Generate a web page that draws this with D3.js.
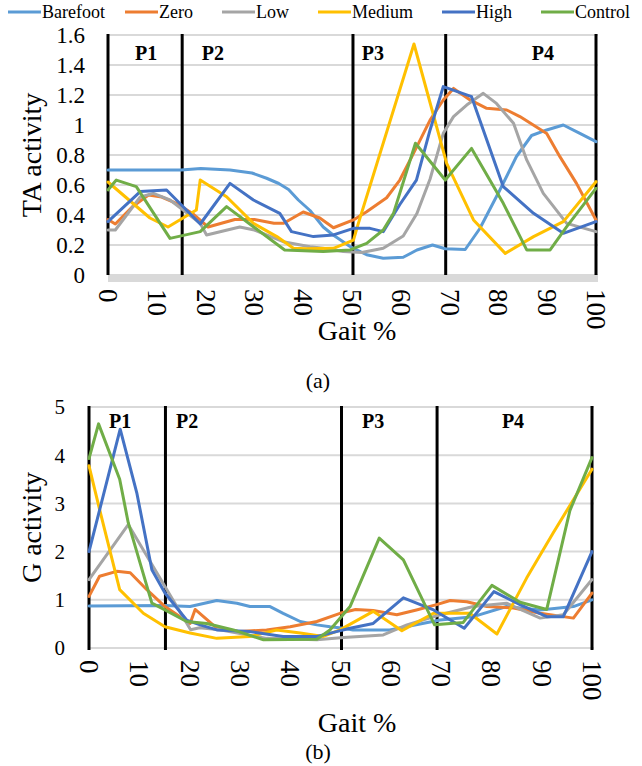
<!DOCTYPE html>
<html>
<head>
<meta charset="utf-8">
<script src="https://cdn.jsdelivr.net/npm/d3@7/dist/d3.min.js"></script>
<style>
  html, body { margin: 0; padding: 0; background: #fff; }
  svg { display: block; }
</style>
</head>
<body>
<svg id="chart" width="642" height="766"></svg>
<script>
// ---- Data -------------------------------------------------------------
const seriesNames = ["Barefoot", "Zero", "Low", "Medium", "High", "Control"];
const seriesColors = ["#5B9BD5", "#ED7D31", "#A5A5A5", "#FFC000", "#4472C4", "#70AD47"];

const gaitTicks = [0, 10, 20, 30, 40, 50, 60, 70, 80, 90, 100];
const taTicks = [0, 0.2, 0.4, 0.6, 0.8, 1, 1.2, 1.4, 1.6];
const gTicks = [0, 1, 2, 3, 4, 5];

// phase boundaries (gait %) and phase names
const phaseBounds = [0, 15.2, 50.2, 69.2, 100];
const phaseNames = ["P1", "P2", "P3", "P4"];
const taPhaseLabelAt = [7.8, 21.5, 54.3, 89.1];
const gPhaseLabelAt = [6.2, 19.5, 56.5, 84.3];

// Tibialis anterior activity: [gait %, activity]
const taBarefoot = [[0,0.70],[15,0.70],[19,0.71],[25,0.70],[29.5,0.68],[32.5,0.645],[35,0.61],[37,0.57],[39,0.50],[41.4,0.43],[44.1,0.32],[46,0.27],[49.6,0.19],[53,0.135],[56.4,0.112],[60.5,0.118],[63.3,0.167],[66.5,0.2],[69.1,0.175],[73.2,0.17],[76.2,0.31],[80.3,0.567],[83.7,0.79],[86.8,0.93],[89.9,0.967],[93.3,1.0],[96.7,0.944],[100,0.889]];
const taZero = [[0,0.37],[1.5,0.34],[5,0.455],[8.3,0.533],[11,0.52],[14,0.478],[17.3,0.41],[20.5,0.32],[26,0.37],[30,0.37],[34,0.345],[36,0.345],[40,0.42],[43.4,0.38],[46.2,0.315],[50.3,0.367],[53,0.422],[57.1,0.515],[59.8,0.633],[62.6,0.811],[66,1.033],[68.7,1.167],[70.8,1.244],[74.2,1.167],[77.6,1.111],[81.7,1.1],[84.4,1.056],[89.9,0.944],[92.6,0.789],[96,0.611],[100,0.367]];
const taLow = [[0,0.3],[1.5,0.3],[6.6,0.52],[9.3,0.544],[12.7,0.5],[15.4,0.433],[18.9,0.344],[20.2,0.267],[27,0.32],[30,0.3],[35.9,0.222],[41.4,0.189],[44.1,0.178],[48.2,0.156],[52,0.15],[56.4,0.178],[60.5,0.26],[63.3,0.41],[66,0.64],[68.7,0.944],[70.8,1.056],[73.5,1.133],[76.9,1.211],[79.6,1.144],[83.1,1.011],[85.8,0.767],[89.2,0.544],[94,0.344],[100,0.289]];
const taMedium = [[0,0.62],[8.6,0.38],[12.3,0.32],[18.1,0.433],[18.9,0.633],[24.3,0.522],[29.8,0.344],[34.6,0.256],[38,0.178],[40.7,0.175],[46.2,0.178],[50.3,0.233],[51.3,0.344],[62.7,1.54],[69.4,0.744],[74.9,0.367],[81.4,0.144],[87.2,0.256],[93.3,0.356],[100,0.622]];
const taHigh = [[0,0.356],[6.6,0.556],[12,0.567],[18.9,0.34],[25,0.611],[29.8,0.5],[35.2,0.411],[37.6,0.289],[42.1,0.256],[46.2,0.267],[50.3,0.311],[53.7,0.311],[56.4,0.289],[59.8,0.47],[63.2,0.633],[66,0.967],[68.7,1.256],[74.5,1.189],[81,0.589],[87.2,0.411],[93.3,0.278],[100,0.356]];
const taControl = [[0,0.567],[1.7,0.633],[5.8,0.589],[12.7,0.244],[18.9,0.289],[24.3,0.456],[29.8,0.322],[36.2,0.167],[44.1,0.156],[49.6,0.167],[53,0.211],[56.4,0.3],[58.5,0.411],[63,0.878],[69.1,0.633],[74.5,0.844],[81,0.478],[85.8,0.167],[90.6,0.167],[94,0.322],[100,0.578]];

// Gastrocnemius activity: [gait %, activity]
const gBarefoot = [[0,0.87],[15.1,0.88],[20.1,0.86],[25.4,0.985],[29.4,0.93],[32,0.86],[36,0.86],[38.6,0.72],[42,0.55],[45.3,0.48],[47.9,0.44],[50.6,0.41],[52.5,0.375],[59.8,0.375],[69.8,0.58],[76.4,0.65],[83,0.86],[89.7,0.79],[96.3,0.86],[100,1.0]];
const gZero = [[0,1.07],[2.1,1.49],[5.5,1.59],[8.2,1.56],[11.5,1.21],[15.1,0.86],[20.1,0.51],[21.1,0.8],[25.4,0.41],[30,0.34],[35.3,0.375],[40,0.44],[45.3,0.55],[49.9,0.72],[53,0.8],[56.5,0.78],[61.2,0.69],[65.1,0.79],[69.1,0.9],[71.8,0.985],[75.1,0.96],[79.1,0.86],[84.4,0.83],[89.7,0.72],[96.3,0.62],[100,1.14]];
const gLow = [[0,1.42],[7.8,2.56],[20.2,0.38],[22,0.42],[26,0.38],[35.3,0.2],[45.3,0.17],[50.6,0.22],[58.5,0.27],[63.2,0.48],[69.8,0.69],[76.4,0.86],[83,0.93],[89.7,0.62],[94.3,0.69],[100,1.42]];
const gMedium = [[0,3.78],[2.1,2.875],[6.1,1.21],[10.8,0.72],[15.1,0.44],[20.1,0.31],[25.4,0.2],[32,0.24],[37.3,0.375],[42,0.31],[46.6,0.24],[49.9,0.375],[56.5,0.76],[62.2,0.36],[68.5,0.72],[75.7,0.72],[81.1,0.29],[87,1.45],[92.3,2.39],[100,3.71]];
const gHigh = [[0,2.0],[6.2,4.54],[9.5,3.22],[12.5,1.625],[15.1,1.14],[19.4,0.58],[22.1,0.48],[25.4,0.375],[32,0.34],[38.6,0.24],[45.3,0.24],[49.2,0.34],[51.9,0.41],[56.5,0.51],[62.5,1.04],[68.5,0.79],[74.6,0.41],[80.5,1.17],[85.7,0.9],[91,0.65],[94.3,0.65],[100,2.0]];
const gControl = [[0,3.93],[1.9,4.65],[6.1,3.5],[7.8,2.6],[12.5,0.93],[15.1,0.79],[19.4,0.55],[23.4,0.51],[28.7,0.375],[34.7,0.17],[45.3,0.18],[47.9,0.375],[51.9,0.86],[57.7,2.28],[62.5,1.83],[68.7,0.48],[74.4,0.53],[80.1,1.3],[85.7,0.95],[91,0.8],[95.6,2.85],[100,3.95]];

const taSeries = [taBarefoot, taZero, taLow, taMedium, taHigh, taControl];
const gSeries = [gBarefoot, gZero, gLow, gMedium, gHigh, gControl];

// ---- Drawing ----------------------------------------------------------
const FONT = "Liberation Serif, DejaVu Serif, serif";
const svg = d3.select("#chart")
  .attr("font-family", FONT)
  .style("font-family", FONT);

// helper so every label carries the serif face explicitly
function label(parent) {
  return parent.append("text").attr("font-family", FONT).attr("fill", "#000");
}

// legend across the top
const legendLineX = [8, 125, 222, 318, 442, 541];
const legend = svg.append("g").attr("class", "legend");
seriesNames.forEach((name, i) => {
  const x0 = legendLineX[i];
  legend.append("line")
    .attr("x1", x0).attr("x2", x0 + 33)
    .attr("y1", 12).attr("y2", 12)
    .attr("stroke", seriesColors[i]).attr("stroke-width", 3);
  label(legend)
    .attr("x", x0 + 34).attr("y", 18)
    .attr("font-size", 18)
    .text(name);
});

function drawPanel(cfg) {
  const x = d3.scaleLinear().domain([0, 100]).range([cfg.left, cfg.right]);
  const y = d3.scaleLinear().domain([0, cfg.yMax]).range([cfg.bottom, cfg.top]);
  const g = svg.append("g");

  // horizontal gridlines
  g.append("g").selectAll("line").data(cfg.yTicks).join("line")
    .attr("x1", x(0)).attr("x2", x(100) + 2)
    .attr("y1", d => y(d)).attr("y2", d => y(d))
    .attr("stroke", "#d9d9d9").attr("stroke-width", 2);

  // x axis base
  if (cfg.thickBase) {
    g.append("rect")
      .attr("x", x(0)).attr("y", y(0))
      .attr("width", x(100) - x(0) + 2).attr("height", 7)
      .attr("fill", "#d9d9d9");
  }

  // y tick labels
  cfg.yTicks.forEach(d => {
    label(g)
      .attr("x", cfg.yLabelRight).attr("y", y(d))
      .attr("dy", "0.35em")
      .attr("text-anchor", "end")
      .attr("font-size", cfg.yTickSize)
      .text(d3.format("~g")(d));
  });

  // x tick labels, rotated
  gaitTicks.forEach(d => {
    label(g)
      .attr("transform", `translate(${x(d)},${cfg.xLabelTop}) rotate(90)`)
      .attr("dy", "0.33em")
      .attr("font-size", cfg.xTickSize)
      .text(d);
  });

  // phase boundaries
  g.append("g").selectAll("line").data(phaseBounds).join("line")
    .attr("x1", d => x(d)).attr("x2", d => x(d))
    .attr("y1", y(cfg.yMax) - 1).attr("y2", y(0) + cfg.boundExtra)
    .attr("stroke", "#000").attr("stroke-width", 3);

  // phase labels
  phaseNames.forEach((d, i) => {
    label(g)
      .attr("x", x(cfg.phaseAt[i]))
      .attr("y", cfg.phaseBaseline)
      .attr("text-anchor", "middle")
      .attr("font-size", 20).attr("font-weight", "bold")
      .text(d);
  });

  // series lines
  const line = d3.line().x(d => x(d[0])).y(d => y(d[1]));
  g.append("g").selectAll("path").data(cfg.series).join("path")
    .attr("d", line)
    .attr("fill", "none")
    .attr("stroke", (d, i) => seriesColors[i])
    .attr("stroke-width", 3)
    .attr("stroke-linejoin", "round")
    .attr("stroke-linecap", "round");

  // axis titles and caption
  label(svg)
    .attr("transform", `translate(${cfg.yTitleX},${(y(0) + y(cfg.yMax)) / 2}) rotate(-90)`)
    .attr("text-anchor", "middle").attr("dy", "0.35em")
    .attr("font-size", 28)
    .text(cfg.yTitle);
  label(svg)
    .attr("x", 357).attr("y", cfg.xTitleBaseline)
    .attr("text-anchor", "middle")
    .attr("font-size", 28)
    .text("Gait %");
  label(svg)
    .attr("x", 318).attr("y", cfg.captionBaseline)
    .attr("text-anchor", "middle")
    .attr("font-size", 22)
    .text(cfg.caption);
}

drawPanel({
  left: 108, right: 596, top: 35, bottom: 275, yMax: 1.6,
  yTicks: taTicks, series: taSeries, phaseAt: taPhaseLabelAt,
  thickBase: true, boundExtra: 0,
  yLabelRight: 85, yTickSize: 23, xTickSize: 27, xLabelTop: 289,
  phaseBaseline: 60, yTitle: "TA activity", yTitleX: 31,
  xTitleBaseline: 340, caption: "(a)", captionBaseline: 388
});

drawPanel({
  left: 89, right: 592, top: 407, bottom: 648, yMax: 5,
  yTicks: gTicks, series: gSeries, phaseAt: gPhaseLabelAt,
  thickBase: false, boundExtra: 2,
  yLabelRight: 65, yTickSize: 21, xTickSize: 27, xLabelTop: 660,
  phaseBaseline: 428, yTitle: "G activity", yTitleX: 31,
  xTitleBaseline: 732, caption: "(b)", captionBaseline: 759
});
</script>
</body>
</html>
